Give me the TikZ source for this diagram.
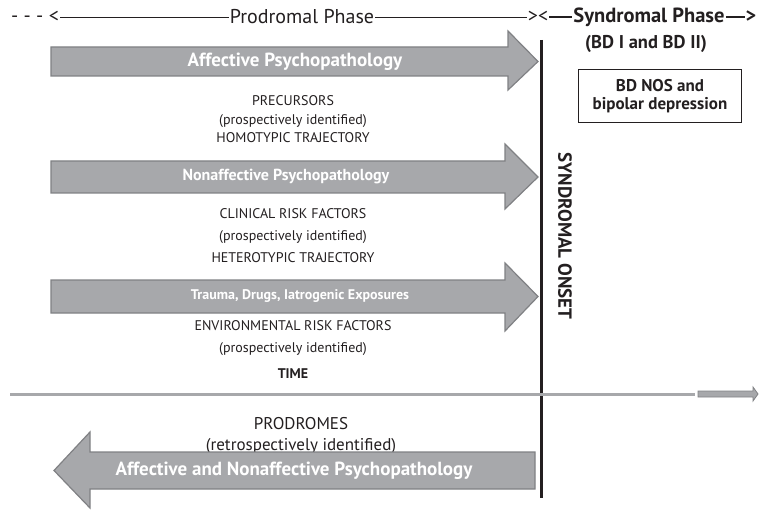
\documentclass[tikz,border=0pt]{standalone}
\usepackage{fontspec}
\setmainfont{PT Sans}
\usetikzlibrary{positioning}
\definecolor{arrowgray}{HTML}{A7A8AB}
\definecolor{edgegray}{HTML}{808184}
\definecolor{inkblack}{HTML}{231F20}

\tikzset{
  bigarrow/.style={fill=arrowgray, draw=edgegray, line width=1.2pt, line join=miter},
  arrowlabel/.style={text=white, font=\bfseries\fontsize{16}{18}\selectfont},
  plain/.style={text=inkblack, font=\fontsize{14}{22}\selectfont, align=center},
  phase/.style={text=inkblack, font=\fontsize{20}{22}\selectfont, inner sep=1pt},
}

\begin{document}
\begin{tikzpicture}[x=1pt, y=-1pt]
	\useasboundingbox (0,0) rectangle (759,510);
	% Phase heading
	\node[phase] (dash) at (35,17) {- - - <};
	\node[phase] (prod) at (302,17) {Prodromal Phase};
	\node[phase] (cross) at (538,17) {><};
	\node[phase, font=\bfseries\fontsize{20.5}{22}\selectfont] (synd) at (649,17) {Syndromal Phase};
	\node[phase, font=\bfseries\fontsize{20}{22}\selectfont] (gt) at (751,17) {>};
	\draw[inkblack, line width=0.8pt] (dash.east) -- (prod.west);
	\draw[inkblack, line width=0.8pt] (prod.east) -- (cross.west);
	\draw[inkblack, line width=1.3pt] (cross.east) -- (synd.west);
	\draw[inkblack, line width=1.3pt] (synd.east) -- (gt.west);
	\node[plain, font=\bfseries\fontsize{18.5}{20}\selectfont] (bd) at (646,44) {(BD I and BD II)};
	\node[draw=inkblack, line width=0.9pt, minimum width=163pt, minimum height=53pt, align=center,
	      text=inkblack, font=\bfseries\fontsize{17}{18.5}\selectfont] (nos) at (660,96) {BD NOS and\\bipolar depression};
	% Onset line
	\coordinate (on0) at (541,40);
	\coordinate (on1) at (541,498);
	\draw[inkblack, line width=3pt] (on0) -- (on1);
	\node[rotate=-90, text=inkblack, font=\bfseries\fontsize{19}{21}\selectfont] (onset) at (565,236) {SYNDROMAL ONSET};
	% Forward arrows
	\draw[bigarrow] (51,47) -- (508,47) -- (508,31) -- (538,61.5) -- (508,90) -- (508,76) -- (51,76) -- cycle;
	\node[arrowlabel, font=\bfseries\fontsize{19}{20}\selectfont] (aff) at (295,61.5) {Affective Psychopathology};
	\draw[bigarrow] (51,161) -- (505,161) -- (505,144) -- (538,177) -- (505,209) -- (505,193) -- (51,193) -- cycle;
	\node[arrowlabel] (naff) at (286,177) {Nonaffective Psychopathology};
	\draw[bigarrow] (51,280) -- (505,280) -- (505,263) -- (538,296.5) -- (505,331) -- (505,313) -- (51,313) -- cycle;
	\node[arrowlabel, font=\bfseries\fontsize{14}{16}\selectfont] (trauma) at (300,296.5) {Trauma, Drugs, Iatrogenic Exposures};
	% Labels
	\node[plain, font=\fontsize{14}{18.5}\selectfont] (prec) at (293,119.5) {PRECURSORS\\(prospectively identified)\\HOMOTYPIC TRAJECTORY};
	\node[plain] (clin) at (293,236) {CLINICAL RISK FACTORS\\(prospectively identified)\\HETEROTYPIC TRAJECTORY};
	\node[plain] (env) at (293,338) {ENVIRONMENTAL RISK FACTORS\\(prospectively identified)};
	\node[plain, font=\bfseries\fontsize{14}{16}\selectfont] (time) at (293,374) {TIME};
	% Time axis
	\coordinate (t0) at (10,394);
	\coordinate (t1) at (695,394);
	\draw[arrowgray, line width=3pt] (t0) -- (t1);
	\draw[bigarrow, line width=0.8pt] (698,391) -- (753,391) -- (753,387) -- (758,394) -- (753,401) -- (753,397) -- (698,397) -- cycle;
	% Backward arrow
	\node[plain, font=\fontsize{17}{21}\selectfont] (prodr) at (301,436) {PRODROMES\\(retrospectively identified)};
	\draw[bigarrow] (535,452) -- (90,452) -- (90,432) -- (54,470.5) -- (90,508) -- (90,489) -- (535,489) -- cycle;
	\node[arrowlabel, font=\bfseries\fontsize{19}{20}\selectfont] (both) at (294,470.5) {Affective and Nonaffective Psychopathology};
\end{tikzpicture}
\end{document}
